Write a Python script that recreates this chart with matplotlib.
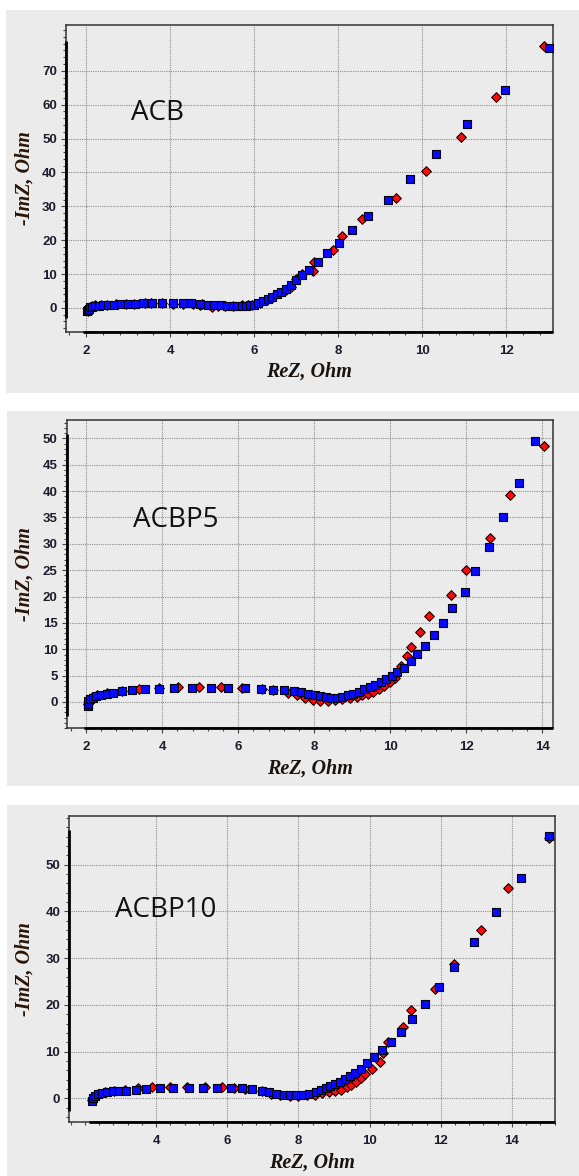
import matplotlib.pyplot as plt
import matplotlib.patches as patches
from matplotlib.ticker import AutoMinorLocator
import matplotlib.transforms as mtransforms

# --- ACB ---
acb_blue_x = [2.03, 2.05, 2.07, 2.10, 2.15, 2.22, 2.30, 2.40, 2.52, 2.66, 2.82, 3.00, 3.17,
              3.35, 3.57, 3.80, 4.07, 4.30, 4.50, 4.70, 4.90, 5.05, 5.20, 5.35, 5.50, 5.60,
              5.70, 5.80, 5.90, 6.00, 6.10, 6.21, 6.32, 6.43, 6.54, 6.64, 6.76, 6.87, 7.00,
              7.15, 7.30, 7.51, 7.73, 8.01, 8.34, 8.72, 9.18, 9.71, 10.33, 11.07, 11.97, 13.01]
acb_blue_y = [-1.0, -0.6, -0.2, 0.2, 0.4, 0.6, 0.7, 0.8, 0.9, 1.0, 1.1, 1.1, 1.3,
              1.4, 1.5, 1.5, 1.5, 1.4, 1.4, 1.3, 1.0, 0.9, 0.9, 0.7, 0.7, 0.6,
              0.7, 0.7, 0.8, 1.0, 1.4, 2.1, 2.6, 3.3, 4.0, 4.7, 5.65, 6.8, 8.1,
              9.75, 11.3, 13.7, 16.2, 19.3, 22.9, 27.1, 32.0, 38.2, 45.5, 54.2, 64.4, 76.7]
acb_red_x = [2.04, 2.06, 2.09, 2.14, 2.22, 2.35, 2.50, 2.70, 2.95, 3.15, 3.40, 3.55, 3.80,
             4.07, 4.30, 4.55, 4.70, 4.75, 5.00, 5.15, 5.30, 5.50, 5.70, 5.85, 5.95, 6.05,
             6.15, 6.30, 6.45, 6.60, 6.75, 6.87, 7.00, 7.15, 7.40, 7.42, 7.88, 8.08, 8.56,
             9.37, 10.10, 10.93, 11.76, 12.91]
acb_red_y = [-0.8, -0.3, 0.2, 0.5, 0.8, 0.9, 1.0, 1.1, 1.2, 1.3, 1.4, 1.6, 1.4,
             1.3, 1.3, 1.2, 0.8, 1.2, 0.4, 0.5, 0.5, 0.6, 0.8, 0.9, 1.0, 1.2,
             1.6, 2.3, 3.2, 4.4, 5.2, 6.1, 8.5, 9.9, 11.0, 13.5, 17.1, 21.1, 26.2,
             32.5, 40.4, 50.4, 62.3, 77.4]

# --- ACBP5 ---
acbp5_blue_x = [2.04, 2.05, 2.06, 2.10, 2.18, 2.27, 2.39, 2.55, 2.72, 2.94, 3.20, 3.54, 3.91,
                4.32, 4.78, 5.28, 5.74, 6.19, 6.59, 6.93, 7.22, 7.47, 7.66, 7.83, 8.02, 8.16,
                8.31, 8.45, 8.60, 8.74, 8.88, 9.03, 9.17, 9.32, 9.46, 9.61, 9.75, 9.90, 10.04,
                10.19, 10.36, 10.54, 10.72, 10.93, 11.15, 11.40, 11.64, 11.97, 12.24, 12.60,
                12.96, 13.39, 13.81]
acbp5_blue_y = [-0.7, -0.4, 0.1, 0.5, 0.8, 1.1, 1.4, 1.5, 1.7, 2.0, 2.2, 2.4, 2.5,
                2.7, 2.7, 2.7, 2.7, 2.7, 2.5, 2.3, 2.3, 2.0, 1.8, 1.6, 1.4, 1.2,
                1.0, 0.8, 0.8, 1.0, 1.3, 1.5, 1.9, 2.4, 2.8, 3.3, 3.8, 4.4, 5.0,
                5.6, 6.5, 7.8, 9.05, 10.6, 12.7, 15.0, 17.8, 20.9, 24.8, 29.4,
                35.0, 41.6, 49.6]
acbp5_red_x = [2.05, 2.07, 2.13, 2.29, 2.56, 2.95, 3.38, 3.92, 4.43, 4.98, 5.55, 6.11, 6.62,
               6.92, 7.30, 7.54, 7.76, 7.97, 8.16, 8.36, 8.55, 8.74, 8.94, 9.13, 9.27, 9.42,
               9.56, 9.71, 9.85, 10.00, 10.14, 10.28, 10.45, 10.54, 10.79, 11.02, 11.61,
               11.99, 12.62, 13.16, 14.05]
acbp5_red_y = [-0.4, 0.2, 0.8, 1.3, 1.7, 2.0, 2.4, 2.6, 2.8, 2.8, 2.9, 2.7, 2.5,
               2.2, 1.7, 1.3, 0.8, 0.4, 0.2, 0.1, 0.3, 0.5, 0.8, 1.0, 1.3, 1.5,
               1.9, 2.4, 3.1, 3.8, 4.5, 6.8, 8.7, 10.5, 13.3, 16.3, 20.2,
               25.1, 31.2, 39.2, 48.6]

# --- ACBP10 ---
acbp10_blue_x = [2.20, 2.22, 2.27, 2.36, 2.48, 2.62, 2.78, 2.97, 3.15, 3.44, 3.72, 4.10, 4.48,
                 4.91, 5.32, 5.70, 6.10, 6.40, 6.69, 6.97, 7.17, 7.38, 7.58, 7.76, 7.94, 8.13,
                 8.31, 8.48, 8.63, 8.77, 8.90, 9.02, 9.17, 9.31, 9.44, 9.59, 9.77, 9.94, 10.13,
                 10.35, 10.60, 10.87, 11.18, 11.56, 11.94, 12.38, 12.93, 13.54, 14.26, 15.04]
acbp10_blue_y = [-0.6, 0.0, 0.5, 1.0, 1.2, 1.3, 1.5, 1.5, 1.7, 1.8, 2.0, 2.3, 2.3,
                 2.3, 2.3, 2.3, 2.3, 2.2, 2.0, 1.5, 1.3, 1.0, 0.8, 0.65, 0.65, 0.8,
                 1.0, 1.3, 1.8, 2.2, 2.6, 3.0, 3.5, 4.1, 4.7, 5.5, 6.4, 7.5, 8.9,
                 10.3, 12.0, 14.3, 16.9, 20.1, 23.9, 28.2, 33.5, 39.9, 47.1, 56.1]
acbp10_red_x = [2.21, 2.25, 2.36, 2.55, 2.81, 3.12, 3.48, 3.89, 4.40, 4.88, 5.37, 5.84, 6.20,
                6.51, 6.97, 7.23, 7.49, 7.75, 8.00, 8.24, 8.46, 8.67, 8.86, 9.03, 9.20, 9.37,
                9.49, 9.63, 9.75, 9.88, 10.06, 10.28, 10.38, 10.51, 10.94, 11.17, 11.85,
                12.36, 13.12, 13.90, 15.03]
acbp10_red_y = [-0.4, 0.3, 1.0, 1.4, 1.6, 1.9, 2.2, 2.5, 2.5, 2.5, 2.5, 2.4, 2.2,
                2.0, 1.7, 1.0, 0.65, 0.5, 0.5, 0.65, 0.8, 1.1, 1.4, 1.6, 1.9, 2.4,
                2.9, 3.6, 4.4, 5.2, 6.4, 7.8, 9.8, 12.0, 15.3, 18.9, 23.4,
                28.8, 36.0, 44.9, 55.6]

names = ["ACB", "ACBP5", "ACBP10"]
x_ticks = [[2, 4, 6, 8, 10, 12], [2, 4, 6, 8, 10, 12, 14], [4, 6, 8, 10, 12, 14]]
y_ticks = [[0, 10, 20, 30, 40, 50, 60, 70],
           [0, 5, 10, 15, 20, 25, 30, 35, 40, 45, 50],
           [0, 10, 20, 30, 40, 50]]

W, H = 579, 1176
BG = "#ebebeb"
TICK_COL = "#1c1c2c"

fig = plt.figure(figsize=(W / 100, H / 100), dpi=100)
fig.patch.set_facecolor("white")

# pixel layout: axes (left, right, top, bottom), gray panel (left, top, bottom), label pos (x, baseline)
layout = [
    dict(ax=(66, 552.8, 25, 332), bg=(6, 10, 393), xlim=(1.52, 13.11), ylim=(-7.1, 83.5),
         txt=(131, 120)),
    dict(ax=(66.7, 552.8, 420, 728.3), bg=(6.5, 410.5, 786), xlim=(1.49, 14.28), ylim=(-5.0, 53.5),
         txt=(132.7, 526.7)),
    dict(ax=(69.3, 555, 816, 1122.3), bg=(6.5, 805, 1176), xlim=(1.56, 15.21), ylim=(-5.1, 60.4),
         txt=(115, 917)),
]

series = [
    (acb_red_x, acb_red_y, acb_blue_x, acb_blue_y),
    (acbp5_red_x, acbp5_red_y, acbp5_blue_x, acbp5_blue_y),
    (acbp10_red_x, acbp10_red_y, acbp10_blue_x, acbp10_blue_y),
]

for i, lay in enumerate(layout):
    l, r, t, b = lay["ax"]
    bl, bt, bb = lay["bg"]
    # gray screenshot panel behind everything
    fig.patches.append(patches.Rectangle((bl / W, 1 - bb / H), 1 - bl / W, (bb - bt) / H,
                                         transform=fig.transFigure, facecolor=BG,
                                         edgecolor="none", zorder=-10))
    ax = fig.add_axes([l / W, 1 - b / H, (r - l) / W, (b - t) / H], zorder=2)
    ax.set_facecolor(BG)
    ax.set_xlim(*lay["xlim"])
    ax.set_ylim(*lay["ylim"])
    ax.set_xticks(x_ticks[i])
    ax.set_yticks(y_ticks[i])
    ax.xaxis.set_minor_locator(AutoMinorLocator(5))
    ax.yaxis.set_minor_locator(AutoMinorLocator(5))
    ax.grid(True, which="major", color="#8f8f8f", linestyle=(0, (1, 1)), linewidth=0.8)
    ax.set_axisbelow(True)

    for s in ax.spines.values():
        s.set_color("#333333")
        s.set_linewidth(1.1)

    ax.tick_params(axis="both", which="major", length=3.5, width=0.8, color="#444444",
                   labelsize=9.5, labelcolor=TICK_COL)
    ax.tick_params(axis="both", which="minor", length=2.5, width=0.8, color="#444444")
    ax.tick_params(axis="x", which="major", pad=6)
    ax.tick_params(axis="y", which="major", pad=3)
    for lab in ax.get_xticklabels() + ax.get_yticklabels():
        lab.set_fontweight("bold")
        lab.set_family("Liberation Sans")

    rx, ry, bx, by = series[i]
    ax.scatter(rx, ry, marker="D", s=24, facecolor="#ff0a0a", edgecolor="#1a0000",
               linewidth=0.8, zorder=3)
    ax.scatter(bx, by, marker="s", s=27, facecolor="#0a0aff", edgecolor="#000010",
               linewidth=0.8, zorder=4)

    # thick axis lines along data range
    x_all = rx + bx
    y_all = ry + by
    trans_y = mtransforms.blended_transform_factory(ax.transAxes, ax.transData)
    trans_x = mtransforms.blended_transform_factory(ax.transData, ax.transAxes)
    ax.plot([0, 0], [min(y_all) - 2.0, max(y_all) + 1.3], color="black", lw=2.0,
            transform=trans_y, clip_on=False, zorder=5, solid_capstyle="butt")
    ax.plot([min(x_all) - 0.1, lay["xlim"][1]], [0, 0], color="black", lw=2.0,
            transform=trans_x, clip_on=False, zorder=5, solid_capstyle="butt")

    tx, ty = lay["txt"]
    ax.text((tx - l) / (r - l), (b - ty) / (b - t), names[i], transform=ax.transAxes,
            fontsize=20, family="Open Sans", color="#111111", ha="left", va="baseline")

    ax.text(0.5, -40 / (b - t), "ReZ, Ohm", transform=ax.transAxes, ha="center", va="center",
            fontsize=14.5, family="Liberation Serif", fontweight="bold", style="italic",
            color="#1a1410")
    ax.text(-(l - 25) / (r - l), 0.5, "-ImZ, Ohm", transform=ax.transAxes, ha="center",
            va="center", rotation=90, fontsize=14.5, family="Liberation Serif",
            fontweight="bold", style="italic", color="#2a1608")

fig.savefig("out.png", dpi=100)
plt.close()
